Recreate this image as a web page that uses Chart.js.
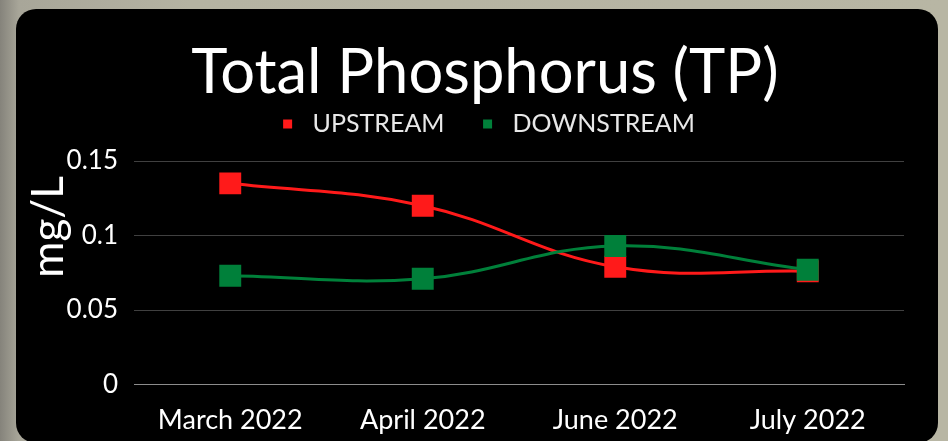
<!DOCTYPE html>
<html>
<head>
<meta charset="utf-8">
<script src="https://cdn.jsdelivr.net/npm/chart.js@4"></script>
<style>
  html, body { margin: 0; padding: 0; }
  body {
    width: 948px; height: 441px; overflow: hidden; position: relative;
    background: linear-gradient(to right, #85837b 0%, #a8a699 2%, #b5b3a2 20%, #b8b6a4 100%);
  }
  #panel {
    position: absolute; left: 16px; top: 9px; width: 922px; height: 434px;
    background: #000; border-radius: 20px;
  }
  #wrap { position: absolute; left: 0; top: 0; width: 948px; height: 441px; }
</style>
</head>
<body>
<div id="panel"></div>
<div id="wrap"><canvas id="c" width="948" height="441"></canvas></div>
<script>
const categories = ["March 2022", "April 2022", "June 2022", "July 2022"];
const upstream = [0.135, 0.120, 0.079, 0.076];
const downstream = [0.073, 0.071, 0.093, 0.077];
const yTicks = [0, 0.05, 0.1, 0.15];
const yTickLabels = ["0", "0.05", "0.1", "0.15"];
const yAxisTitle = "mg/L";

const RED = "#ff1a1a";
const GREEN = "#00803a";
const FONT = "Lato";
const PAD_L = 66, PAD_R = 44;

const axisTitlePlugin = {
  id: "axisTitle",
  afterDraw(chart) {
    const ctx = chart.ctx;
    ctx.save();
    ctx.translate(49, 227);
    ctx.rotate(-Math.PI / 2);
    ctx.fillStyle = "#ffffff";
    ctx.font = "44px " + FONT;
    ctx.textAlign = "center";
    ctx.textBaseline = "middle";
    ctx.fillText(yAxisTitle, 0, 0);
    ctx.restore();
  }
};

new Chart(document.getElementById("c"), {
  type: "line",
  data: {
    labels: categories,
    datasets: [
      {
        label: "UPSTREAM", data: upstream, order: 1,
        borderColor: RED, backgroundColor: RED,
        borderWidth: 3, tension: 0.4,
        pointStyle: "rect", pointRadius: 15.5, pointHoverRadius: 15.5,
        pointBorderWidth: 0, pointBackgroundColor: RED
      },
      {
        label: "DOWNSTREAM", data: downstream, order: 0,
        borderColor: GREEN, backgroundColor: GREEN,
        borderWidth: 3, tension: 0.4,
        pointStyle: "rect", pointRadius: 15.5, pointHoverRadius: 15.5,
        pointBorderWidth: 0, pointBackgroundColor: GREEN
      }
    ]
  },
  plugins: [axisTitlePlugin],
  options: {
    responsive: false,
    animation: false,
    events: [],
    layout: { padding: { top: 66, left: PAD_L, right: PAD_R, bottom: 0 } },
    plugins: {
      tooltip: { enabled: false },
      title: {
        display: true, text: "Total Phosphorus (TP)", color: "#ffffff",
        font: { family: FONT, size: 61.5, weight: "normal", lineHeight: 0.244 },
        padding: { top: 0, bottom: 0 }
      },
      subtitle: {
        display: true, text: " ", color: "rgba(0,0,0,0)", weight: 500,
        font: { family: FONT, size: 10, lineHeight: 1 },
        padding: { top: 4.5, bottom: 0 }
      },
      legend: {
        display: true,
        labels: {
          color: "#e8e8e8",
          font: { family: FONT, size: 25 },
          usePointStyle: true, pointStyle: "rect",
          boxWidth: 34, boxHeight: 9, padding: 30.5,
          generateLabels: (chart) => chart.data.datasets.map((ds, i) => ({
            text: ds.label, fillStyle: ds.borderColor, strokeStyle: ds.borderColor,
            lineWidth: 0, pointStyle: "rect", datasetIndex: i, hidden: false,
            fontColor: "#e8e8e8"
          }))
        }
      }
    },
    scales: {
      x: {
        offset: true,
        grid: { display: false, drawTicks: false },
        border: { display: true, color: "#8c8c8c", width: 1 },
        ticks: { color: "#ffffff", font: { family: FONT, size: 27 }, padding: 20, maxRotation: 0 },
        afterFit: (s) => { s.height = 441 - 384.5; }
      },
      y: {
        min: 0, max: 0.15,
        afterBuildTicks: (s) => { s.ticks = yTicks.map(v => ({ value: v })); },
        grid: {
          color: (ctx) => (ctx.tick && ctx.tick.value === 0 ? "#8c8c8c" : "#404040"),
          drawTicks: false, lineWidth: 1
        },
        border: { display: false },
        ticks: {
          color: "#ffffff", font: { family: FONT, size: 26 }, padding: 16,
          callback: (v) => { const i = yTicks.indexOf(v); return i >= 0 ? yTickLabels[i] : ""; }
        },
        afterFit: (s) => { s.width = 134 - PAD_L; }
      }
    }
  }
});
</script>
</body>
</html>
